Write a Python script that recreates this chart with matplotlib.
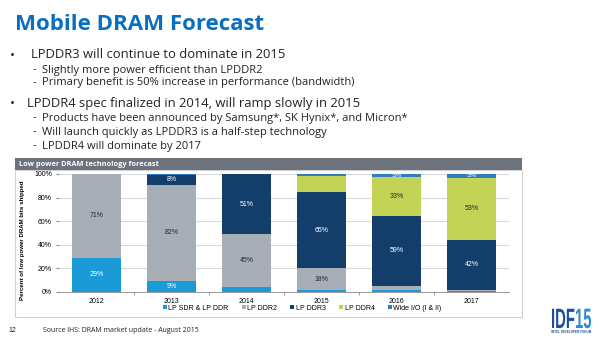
import numpy as np
import matplotlib
matplotlib.use("Agg")
import matplotlib.pyplot as plt
from matplotlib.patches import Rectangle, PathPatch
from matplotlib.textpath import TextPath
from matplotlib.font_manager import FontProperties
from matplotlib.transforms import Affine2D

plt.rcParams['font.family'] = ['Liberation Sans', 'DejaVu Sans']

years = ['2012', '2013', '2014', '2015', '2016', '2017']
series_names = ['LP SDR & LP DDR', 'LP DDR2', 'LP DDR3', 'LP DDR4', 'Wide I/O (I & II)']
lp_sdr = [29, 9, 4, 2, 1.5, 1]
lp_ddr2 = [71, 82, 45, 18, 4, 1]
lp_ddr3 = [0, 8, 51, 65, 59, 42]
lp_ddr4 = [0, 0, 0.5, 13, 33, 53]
wide_io = [0, 1, 0, 2, 3, 3]

# which segments carry a printed percentage
labels = {
    0: {0: '29%', 1: '9%'},
    1: {0: '71%', 1: '82%', 2: '45%', 3: '18%'},
    2: {1: '8%', 2: '51%', 3: '65%', 4: '59%', 5: '42%'},
    3: {4: '33%', 5: '53%'},
    4: {4: '3%', 5: '3%'},
}

colors = ['#1a9ad6', '#a7aeb5', '#133e6c', '#c2d356', '#2f7ec3']
text_colors = ['white', '#1c2a3a', 'white', '#1c2a3a', 'white']

W, H = 600, 338
fig = plt.figure(figsize=(W / 100, H / 100), dpi=100)
fig.patch.set_facecolor('white')
slide_font = ['Open Sans', 'DejaVu Sans']


def fx(px):
    return px / W


def fy(py):
    return 1 - py / H


# slide heading and bullets
fig.text(fx(15), fy(25), 'Mobile DRAM Forecast', color='#0a6fc2', fontsize=16,
         fontweight='bold', family=slide_font, va='center')

bullets = [
    (55, 0, 31, 'LPDDR3 will continue to dominate in 2015'),
    (70, 1, 42, 'Slightly more power efficient than LPDDR2'),
    (83, 1, 42, 'Primary benefit is 50% increase in performance (bandwidth)'),
    (104, 0, 27, 'LPDDR4 spec finalized in 2014, will ramp slowly in 2015'),
    (118, 1, 42, 'Products have been announced by Samsung*, SK Hynix*, and Micron*'),
    (132, 1, 42, 'Will launch quickly as LPDDR3 is a half-step technology'),
    (146, 1, 42, 'LPDDR4 will dominate by 2017'),
]
for y, level, tx, txt in bullets:
    if level == 0:
        fig.text(fx(10), fy(y), '•', fontsize=9.4, va='center', color='#222222',
                 family=slide_font)
        fig.text(fx(tx), fy(y), txt, fontsize=9.4, va='center', color='#222222',
                 family=slide_font)
    else:
        fig.text(fx(33), fy(y), '-', fontsize=8, va='center', color='#222222',
                 family=slide_font)
        fig.text(fx(tx), fy(y), txt, fontsize=8, va='center', color='#222222',
                 family=slide_font)

# chart panel frame and header bar
fig.patches.append(Rectangle((fx(15), fy(317)), fx(507), (317 - 170) / H,
                             transform=fig.transFigure, facecolor='white',
                             edgecolor='#d0d3d6', linewidth=0.8, zorder=-2))
fig.patches.append(Rectangle((fx(15), fy(170)), fx(507), 12 / H,
                             transform=fig.transFigure, facecolor='#6c737d',
                             edgecolor='none', zorder=-1))
fig.text(fx(19), fy(164), 'Low power DRAM technology forecast', color='white',
         fontsize=5.3, fontweight='bold', va='center', family=slide_font)

ax = fig.add_axes([fx(59), fy(292), fx(450), 118 / H])
ax.set_zorder(2)
ax.patch.set_visible(False)
x = np.arange(len(years))
series = [lp_sdr, lp_ddr2, lp_ddr3, lp_ddr4, wide_io]
bottom = np.zeros(len(years))
for i, (vals, c) in enumerate(zip(series, colors)):
    vals = np.array(vals, dtype=float)
    ax.bar(x, vals, 0.65, bottom=bottom, color=c, label=series_names[i], zorder=3)
    for j, lab in labels.get(i, {}).items():
        ax.text(x[j], bottom[j] + vals[j] / 2, lab, ha='center', va='center',
                fontsize=5, color=text_colors[i], zorder=4)
    bottom += vals

ax.set_xlim(-0.5, 5.5)
ax.set_ylim(0, 100)
ax.set_yticks(np.arange(0, 101, 20))
ax.set_yticklabels([f'{v}%' for v in range(0, 101, 20)], fontsize=5)
ax.set_xticks(x)
ax.set_xticklabels(years, fontsize=5)
ax.set_xticks(x[:-1] + 0.5, minor=True)
ax.tick_params(axis='x', which='major', length=0, pad=4)
ax.tick_params(axis='x', which='minor', length=2, color='#888888')
ax.tick_params(axis='y', length=2, color='#888888', pad=3)
ax.yaxis.grid(True, color='#d9d9d9', linewidth=0.8, zorder=0)
for s in ['top', 'right', 'left']:
    ax.spines[s].set_visible(False)
ax.spines['bottom'].set_color('#888888')
ax.spines['bottom'].set_linewidth(0.6)
ax.set_ylabel('Percent of low power DRAM bits shipped', fontsize=4.4,
              fontweight='bold')
ax.yaxis.set_label_coords(-0.075, 0.44)

ax.legend(loc='upper center', bbox_to_anchor=(0.54, -0.055), ncol=5, frameon=False,
          fontsize=5, handlelength=0.6, handleheight=0.6, handletextpad=0.2,
          columnspacing=1.9)

# footer
fig.text(fx(8), fy(331), '12', fontsize=5, va='center', color='#222222')
fig.text(fx(43), fy(331), 'Source IHS: DRAM market update - August 2015',
         fontsize=5, va='center', color='#222222', family=slide_font)

# condensed IDF15 mark
logo_prop = FontProperties(family='Liberation Sans', weight='bold')
for txt, x0, col in [('IDF', 551, '#1c4f9e'), ('15', 575, '#2c8ad6')]:
    path = TextPath((0, 0), txt, size=28, prop=logo_prop)
    tr = Affine2D().scale(0.53 / W, 1 / H).translate(fx(x0), fy(328)) + fig.transFigure
    fig.patches.append(PathPatch(path, transform=tr, facecolor=col, edgecolor='none'))
fig.text(fx(571), fy(332), 'INTEL DEVELOPER FORUM', fontsize=2.2, fontweight='bold',
         color='#1c4f9e', va='center', ha='center')

fig.savefig('out.png', dpi=100)
